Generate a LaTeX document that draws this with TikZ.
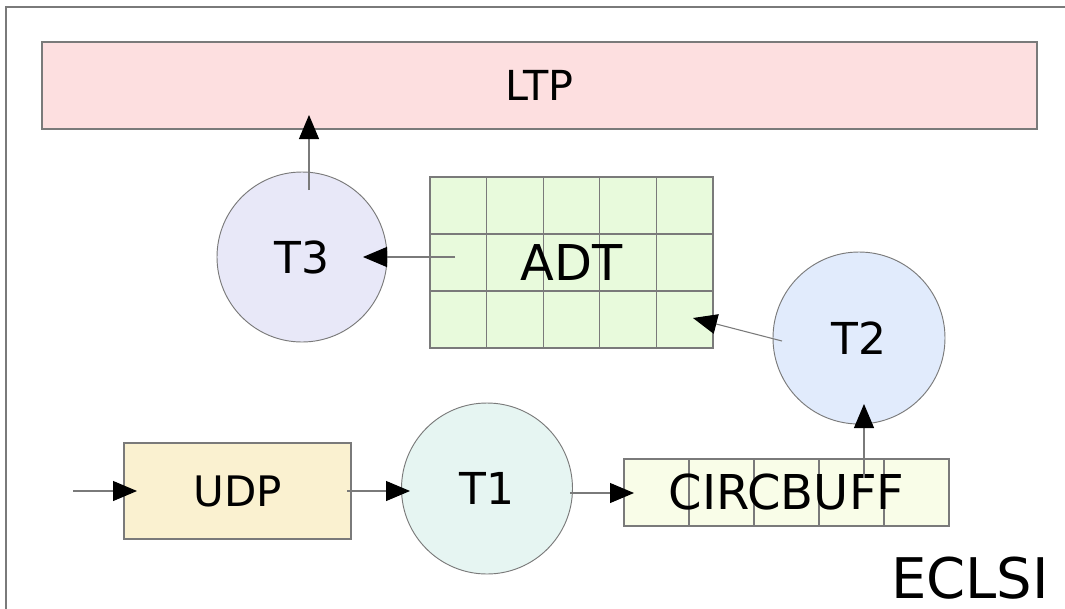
\documentclass[tikz,border=0pt]{standalone}
\usepackage{fontspec}
\setmainfont{DejaVu Sans}
\usetikzlibrary{arrows.meta,calc}
\definecolor{edgegray}{HTML}{7A7A7A}
\definecolor{ltpfill}{HTML}{FDDFE0}
\definecolor{tthreefill}{HTML}{E8E8F8}
\definecolor{adtfill}{HTML}{E8FADC}
\definecolor{ttwofill}{HTML}{E1EBFC}
\definecolor{udpfill}{HTML}{FAF1D0}
\definecolor{tonefill}{HTML}{E6F5F2}
\definecolor{cbfill}{HTML}{F9FDE8}
\tikzset{
  boxshape/.style={draw=edgegray, line width=0.9pt, rectangle, inner sep=0pt},
  taskcirc/.style={draw=edgegray, line width=0.7pt, circle, inner sep=0pt},
  conn/.style={draw=edgegray, line width=0.8pt, -{Triangle[length=18pt,width=15pt,color=black]}},
  grid5x3/.style={path picture={
    \foreach \i in {1,...,4}
      \draw[edgegray, line width=0.9pt] ($(path picture bounding box.south west)!\i/5!(path picture bounding box.south east)$) -- ($(path picture bounding box.north west)!\i/5!(path picture bounding box.north east)$);
    \foreach \j in {1,2}
      \draw[edgegray, line width=0.9pt] ($(path picture bounding box.south west)!\j/3!(path picture bounding box.north west)$) -- ($(path picture bounding box.south east)!\j/3!(path picture bounding box.north east)$);
  }},
  grid5x1/.style={path picture={
    \foreach \i in {1,...,4}
      \draw[edgegray, line width=0.9pt] ($(path picture bounding box.south west)!\i/5!(path picture bounding box.south east)$) -- ($(path picture bounding box.north west)!\i/5!(path picture bounding box.north east)$);
  }},
}
\begin{document}
\begin{tikzpicture}[x=0.75pt,y=-0.75pt]
\useasboundingbox (0,0) rectangle (1065,608);
\fill[white] (0,0) rectangle (1065,608);
% frame
\draw[edgegray, line width=1.1pt] (6,612) -- (6,7) -- (1070,7);

% shapes
\node[boxshape, fill=ltpfill, minimum width={995*0.75pt}, minimum height={87*0.75pt}] (ltp) at (539.5,85.5)
  {\fontsize{31}{36}\selectfont LTP};
\node[taskcirc, fill=tthreefill, minimum size={170*0.75pt}] (t3) at (302,257)
  {\fontsize{33}{38}\selectfont T3};
\node[boxshape, fill=adtfill, grid5x3, minimum width={283*0.75pt}, minimum height={171*0.75pt}] (adt) at (571.5,262.5)
  {\fontsize{37}{42}\selectfont ADT};
\node[taskcirc, fill=ttwofill, minimum size={172*0.75pt}] (t2) at (859,338)
  {\fontsize{33}{38}\selectfont T2};
\node[boxshape, fill=udpfill, minimum width={227*0.75pt}, minimum height={96*0.75pt}] (udp) at (237.5,491)
  {\fontsize{31.5}{36}\selectfont UDP};
\node[taskcirc, fill=tonefill, minimum size={171*0.75pt}] (t1) at (487,488.5)
  {\fontsize{33}{38}\selectfont T1};
\node[boxshape, fill=cbfill, grid5x1, minimum width={325*0.75pt}, minimum height={67*0.75pt}] (cb) at (786.5,492.5)
  {\fontsize{36}{41}\selectfont CIRCBUFF};
\node[inner sep=0pt] (eclsi) at (970,578) {\fontsize{42}{48}\selectfont ECLSI};

% connector end points
\coordinate (inA) at (73,491);
\coordinate (udpIn) at (137,491);
\coordinate (udpOut) at (347,491);
\coordinate (t1In) at (410,491);
\coordinate (t1Out) at (570,493);
\coordinate (cbIn) at (634,493);
\coordinate (cbOut) at (864,478);
\coordinate (t2In) at (864,404);
\coordinate (t2Out) at (782,341);
\coordinate (adtIn) at (693,318);
\coordinate (adtOut) at (455,257);
\coordinate (t3In) at (363,257);
\coordinate (t3Out) at (309,190);
\coordinate (ltpIn) at (309,115);

\draw[conn] (inA) -- (udpIn);
\draw[conn] (udpOut) -- (t1In);
\draw[conn] (t1Out) -- (cbIn);
\draw[conn] (cbOut) -- (t2In);
\draw[conn] (t2Out) -- (adtIn);
\draw[conn] (adtOut) -- (t3In);
\draw[conn] (t3Out) -- (ltpIn);
\end{tikzpicture}
\end{document}
